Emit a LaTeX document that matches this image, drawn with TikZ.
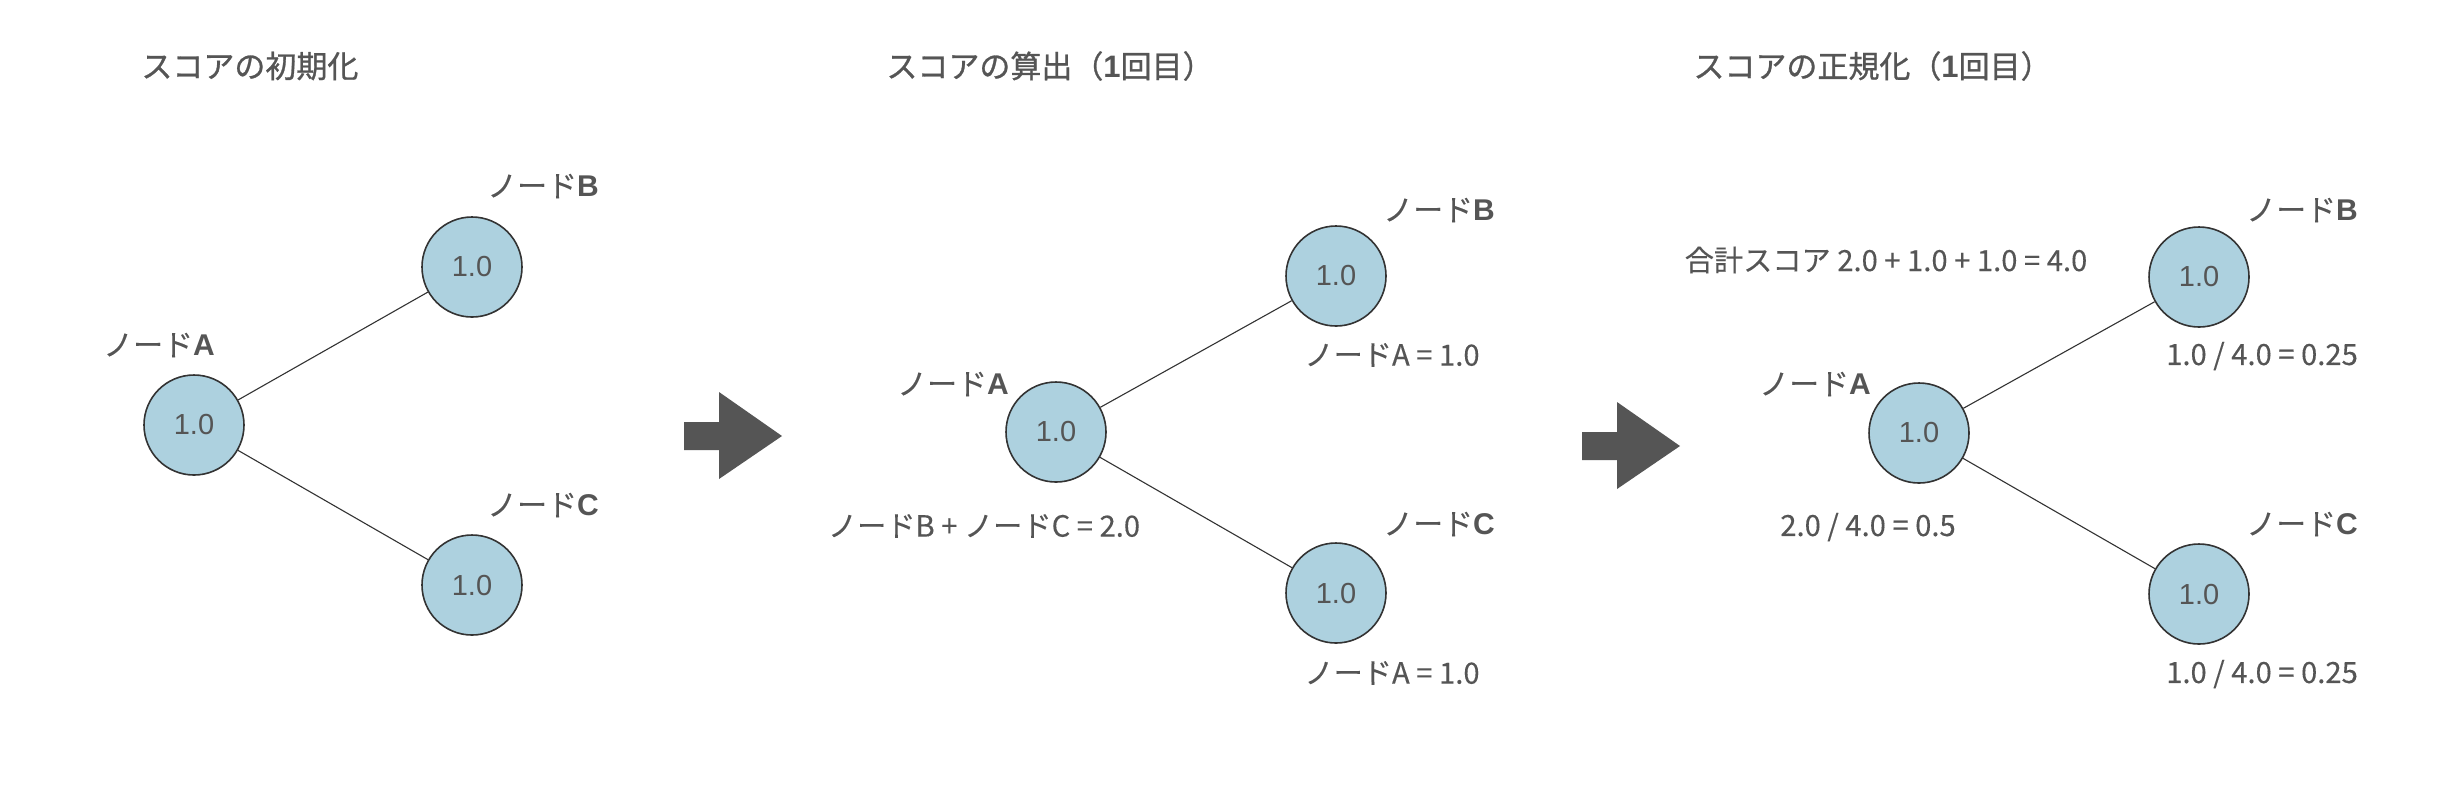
\documentclass[tikz,border=0pt]{standalone}
\usepackage{fontspec}
\setmainfont{Liberation Sans}
\newfontfamily\cjk[FakeBold=0.25]{Noto Sans CJK JP}
\newfontfamily\cjktitle[FakeBold=0.9]{Noto Sans CJK JP}
\newfontfamily\cjklabel[FakeBold=0.3]{Noto Sans CJK JP}
\definecolor{txt}{HTML}{555555}
\definecolor{nodefill}{HTML}{ADD1DF}
\definecolor{edgecol}{HTML}{333333}
\definecolor{arrowcol}{HTML}{555555}
\tikzset{
  scorenode/.style={circle, draw=edgecol, line width=0.8pt, fill=nodefill, minimum size=50pt, inner sep=0pt, text=txt, font=\fontsize{14.5}{16}\selectfont},
  nodelabel/.style={inner sep=0pt, text=txt, font=\fontsize{15}{17}\selectfont},
  anno/.style={inner sep=0pt, text=txt, font=\cjk\fontsize{14.6}{16}\selectfont},
  titletext/.style={inner sep=0pt, text=txt, anchor=west, font=\cjktitle\fontsize{15.5}{18}\selectfont},
  link/.style={draw=edgecol, line width=0.55pt},
  bigarrow/.style={fill=arrowcol, draw=none}
}
\newcommand{\nlab}[1]{{\cjklabel ノード}\textbf{#1}}
\begin{document}
\begin{tikzpicture}[x=0.5pt, y=-0.5pt]
\useasboundingbox[fill=white] (0,0) rectangle (2450,800);

% ---------- Panel 1 ----------
\node[titletext] (t1) at (141,66) {スコアの初期化};
\node[scorenode] (a1) at (194,425) {1.0};
\node[scorenode] (b1) at (472,267) {1.0};
\node[scorenode] (c1) at (472,585) {1.0};
\draw[link] (a1) -- (b1);
\draw[link] (a1) -- (c1);
\node[nodelabel] (la1) at (159,345) {\nlab{A}};
\node[nodelabel] (lb1) at (543,186) {\nlab{B}};
\node[nodelabel] (lc1) at (543,505) {\nlab{C}};

% arrow 1
\fill[bigarrow] (684,422) -- (719,422) -- (719,392) -- (782,436) -- (719,479) -- (719,450) -- (684,450) -- cycle;

% ---------- Panel 2 ----------
\node[titletext] (t2) at (886,66) {スコアの算出（{\fontspec{Liberation Sans}\bfseries 1}回目）};
\node[scorenode] (a2) at (1056,432) {1.0};
\node[scorenode] (b2) at (1336,276) {1.0};
\node[scorenode] (c2) at (1336,593) {1.0};
\draw[link] (a2) -- (b2);
\draw[link] (a2) -- (c2);
\node[nodelabel] (la2) at (953,384) {\nlab{A}};
\node[nodelabel] (lb2) at (1439,210) {\nlab{B}};
\node[nodelabel] (lc2) at (1439,524) {\nlab{C}};
\node[anno] (nb2) at (1392,355) {ノードA = 1.0};
\node[anno] (nc2) at (1392,673) {ノードA = 1.0};
\node[anno] (na2) at (984,526) {ノードB + ノードC = 2.0};

% arrow 2
\fill[bigarrow] (1582,432) -- (1617,432) -- (1617,402) -- (1680,446) -- (1617,489) -- (1617,460) -- (1582,460) -- cycle;

% ---------- Panel 3 ----------
\node[titletext] (t3) at (1693,66) {スコアの正規化（{\fontspec{Liberation Sans}\bfseries 1}回目）};
\node[anno] (sum3) at (1886,260) {合計スコア 2.0 + 1.0 + 1.0 = 4.0};
\node[scorenode] (a3) at (1919,433) {1.0};
\node[scorenode] (b3) at (2199,277) {1.0};
\node[scorenode] (c3) at (2199,594) {1.0};
\draw[link] (a3) -- (b3);
\draw[link] (a3) -- (c3);
\node[nodelabel] (la3) at (1815,384) {\nlab{A}};
\node[nodelabel] (lb3) at (2302,210) {\nlab{B}};
\node[nodelabel] (lc3) at (2302,524) {\nlab{C}};
\node[anno] (nb3) at (2262,356) {1.0 / 4.0 = 0.25};
\node[anno] (nc3) at (2262,674) {1.0 / 4.0 = 0.25};
\node[anno] (na3) at (1868,527) {2.0 / 4.0 = 0.5};
\end{tikzpicture}
\end{document}
